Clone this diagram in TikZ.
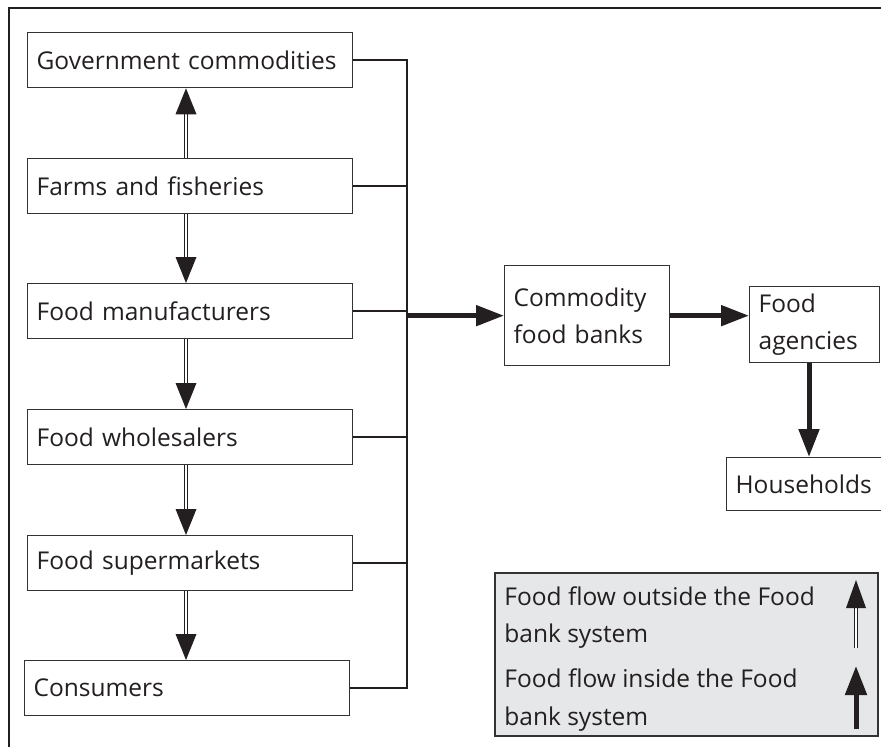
\documentclass[tikz,border=0pt]{standalone}
\usepackage{fontspec}
\setmainfont{Open Sans}
\usetikzlibrary{arrows.meta,calc,backgrounds}
\definecolor{boxline}{HTML}{333333}
\definecolor{ink}{HTML}{231F20}
\definecolor{legfill}{HTML}{E6E7E8}
\tikzset{
  box/.style={draw=boxline, line width=1.3pt, fill=white, anchor=north west,
    inner xsep=9pt, inner ysep=0pt, align=left, text=ink, font=\fontsize{24.5}{37.5}\selectfont},
  leftbox/.style={box, text width=307pt, minimum height=55pt},
  conn/.style={draw=ink, line width=2pt},
  dbl/.style={draw=ink, line width=1.2pt, double=white, double distance=2.4pt},
  flow/.style={draw=ink, line width=5pt, -{Triangle[length=28pt,width=20pt]}},
  legtext/.style={font=\fontsize{24.5}{37.5}\selectfont, inner sep=0pt, text=ink},
}
\begin{document}
\begin{tikzpicture}[x=1pt,y=-1pt]
\useasboundingbox (0,0) rectangle (881,747);
\clip (0,0) rectangle (881,747);
% frame
\draw[draw=ink, line width=1.8pt] (9,760) -- (9,8) -- (890,8);

% left column
\node[leftbox] (gov)   at (27,32)  {Government commodities};
\node[leftbox] (farms) at (27,158) {Farms and fisheries};
\node[leftbox] (manuf) at (27,283) {Food manufacturers};
\node[leftbox] (whole) at (27,409) {Food wholesalers};
\node[leftbox] (super) at (27,535) {Food supermarkets};
\node[leftbox] (cons)  at (24,660) {Consumers};

% right part
\node[box, text width=147pt, minimum height=100pt] (cfb) at (504,265) {Commodity\\food banks};
\node[box, text width=112pt, minimum height=76pt] (fa) at (749,286) {Food\\agencies};
\node[box, text width=152pt, minimum height=53pt] (hh) at (726,457) {Households};

% bus
\coordinate (bus) at (407,0);
\draw[conn] (gov.east) -- (gov.east -| bus) -- (cons.east -| bus) -- (cons.east);
\draw[conn] (farms.east) -- (farms.east -| bus);
\draw[conn] (manuf.east) -- (manuf.east -| bus);
\draw[conn] (whole.east) -- (whole.east -| bus);
\draw[conn] (super.east) -- (super.east -| bus);

% double (outside) flows
\coordinate (ax) at (186,0);
\draw[dbl, shorten >=25pt] (farms.north -| ax) -- (gov.south -| ax);
\fill[ink] (gov.south -| ax) -- ++(-10.5,26) -- ++(21,0) -- cycle;
\draw[dbl, shorten >=25pt] (farms.south -| ax) -- (manuf.north -| ax);
\fill[ink] (manuf.north -| ax) -- ++(-10.5,-26) -- ++(21,0) -- cycle;
\draw[dbl, shorten >=25pt] (manuf.south -| ax) -- (whole.north -| ax);
\fill[ink] (whole.north -| ax) -- ++(-10.5,-26) -- ++(21,0) -- cycle;
\draw[dbl, shorten >=25pt] (whole.south -| ax) -- (super.north -| ax);
\fill[ink] (super.north -| ax) -- ++(-10.5,-26) -- ++(21,0) -- cycle;
\draw[dbl, shorten >=25pt] (super.south -| ax) -- (cons.north -| ax);
\fill[ink] (cons.north -| ax) -- ++(-10.5,-26) -- ++(21,0) -- cycle;

% thick (inside) flows
\draw[flow] (cfb.west -| bus) -- (cfb.west);
\draw[flow] (cfb.east) -- (cfb.east -| fa.west);
\coordinate (dx) at (809,0);
\draw[flow] (fa.south -| dx) -- (hh.north -| dx);

% legend
\node[legtext, anchor=base east] (l1) at (815,605) {Food flow outside the Food};
\node[legtext, anchor=base west] (l2) at ($(l1.base west)+(0,37)$) {bank system};
\node[legtext, anchor=base west] (l3) at ($(l1.base west)+(0,82)$) {Food flow inside the Food};
\node[legtext, anchor=base west] (l4) at ($(l1.base west)+(0,120)$) {bank system};
\coordinate (legl) at ([xshift=-9pt]l1.west);
\coordinate (legtop) at (0,573);
\coordinate (legbr) at (878,736);
\begin{scope}[on background layer]
\draw[draw=boxline, line width=1.5pt, fill=legfill] (legl |- legtop) rectangle (legbr);
\end{scope}
\draw[dbl, shorten >=25pt] (856,648) -- (856,580);
\fill[ink] (856,580) -- ++(-10,28) -- ++(20,0) -- cycle;
\draw[flow, -{Triangle[length=29pt,width=21pt]}] (856,729) -- (856,666);
\end{tikzpicture}
\end{document}
